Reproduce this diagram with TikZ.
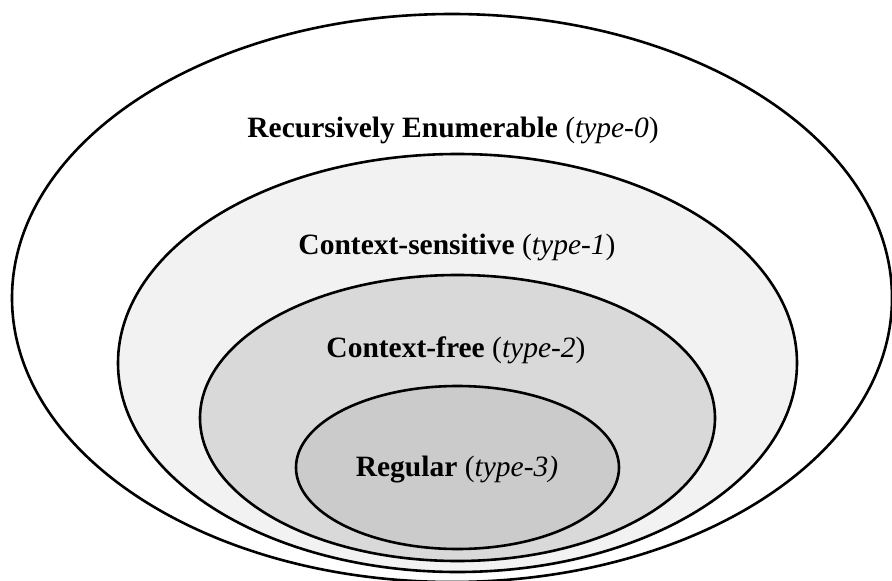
\documentclass[tikz,border=0pt]{standalone}
\usepackage{fontspec}
\setmainfont{Liberation Serif}
\usepackage{tikz}
\usetikzlibrary{positioning}
\usetikzlibrary{shapes.geometric}

\definecolor{csgray}{HTML}{F2F2F2}
\definecolor{cfgray}{HTML}{D9D9D9}
\definecolor{reggray}{HTML}{CBCBCB}

\tikzset{
  lang/.style={ellipse, draw=black, line width=2.6pt, inner sep=0pt},
  lbl/.style={font=\fontsize{29.5}{34}\selectfont, inner sep=0pt},
}

\begin{document}
\begin{tikzpicture}[x=1pt, y=-1pt]

        \useasboundingbox (0,0) rectangle (892,581);
        \clip (0,0) rectangle (892,581);
        % Define nodes
        \node[lang, fill=white,   minimum width=880pt, minimum height=568pt] (re)  at (452,298)   {};
        \node[lang, fill=csgray,  minimum width=679pt, minimum height=418pt] (cs)  at (457.5,363) {};
        \node[lang, fill=cfgray,  minimum width=515pt, minimum height=286pt] (cf)  at (457.5,418) {};
        \node[lang, fill=reggray, minimum width=323pt, minimum height=163pt] (reg) at (457.5,467.5) {};
        % Labels
        \node[lbl] (relbl)  at (453,130) {\textbf{Recursively Enumerable} (\textit{type-0})};
        \node[lbl] (cslbl)  at (457,247) {\textbf{Context-sensitive} (\textit{type-1})};
        \node[lbl] (cflbl)  at (456,350) {\textbf{Context-free} (\textit{type-2})};
        \node[lbl] (reglbl) at (457,470) {\textbf{Regular} (\textit{type-3)}};
      \end{tikzpicture}
\end{document}
